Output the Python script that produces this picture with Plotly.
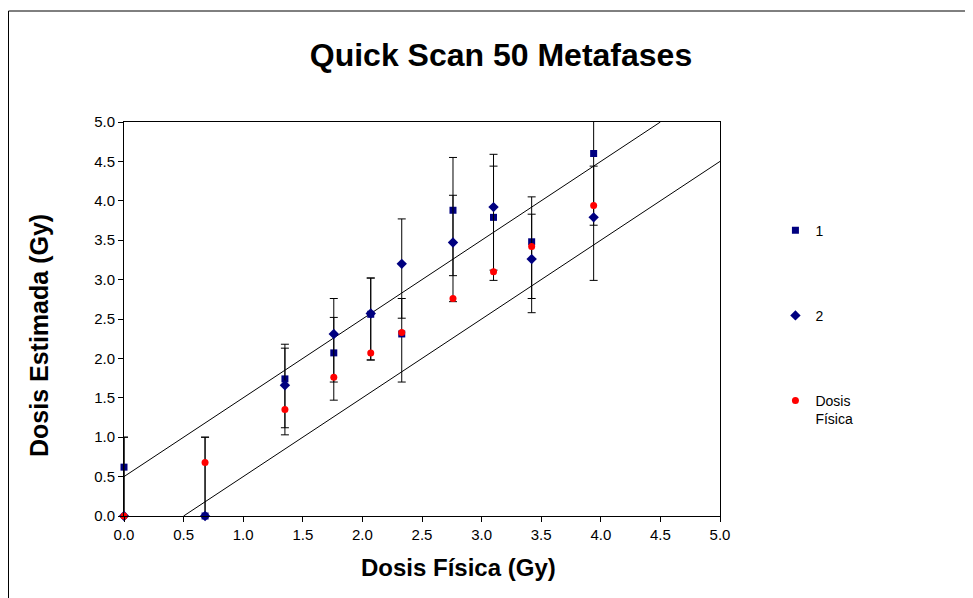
import plotly.graph_objects as go

# ---- data ----
dose_fisica = [0.0, 0.68, 1.35, 1.76, 2.07, 2.33, 2.76, 3.10, 3.42, 3.94]
est_1 = [0.62, 0.0, 1.74, 2.07, 2.56, 2.31, 3.88, 3.79, 3.48, 4.60]
est_2 = [0.0, 0.0, 1.66, 2.31, 2.57, 3.20, 3.47, 3.92, 3.26, 3.79]
upper_1 = [1.0, 1.0, 2.18, 2.52, 3.02, 2.76, 4.55, 4.44, 4.05, 5.30]
lower_1 = [0.0, 0.0, 1.12, 1.47, 1.98, 1.70, 3.05, 2.99, 2.76, 3.69]
upper_2 = [1.0, 1.0, 2.13, 2.76, 3.02, 3.77, 4.07, 4.59, 3.83, 4.44]
lower_2 = [0.0, 0.0, 1.03, 1.70, 1.98, 2.51, 2.72, 3.12, 2.58, 2.99]
band_offset = 0.5
band_upper_x = [0.0, 4.5]
band_lower_x = [0.5, 5.0]
tick_vals = [0.0, 0.5, 1.0, 1.5, 2.0, 2.5, 3.0, 3.5, 4.0, 4.5, 5.0]

FONT = "Liberation Sans, Arial, sans-serif"

plus_1 = [u - v for u, v in zip(upper_1, est_1)]
minus_1 = [v - l for v, l in zip(est_1, lower_1)]
plus_2 = [u - v for u, v in zip(upper_2, est_2)]
minus_2 = [v - l for v, l in zip(est_2, lower_2)]

fig = go.Figure()

# band lines y = x +/- offset
fig.add_trace(go.Scatter(x=band_upper_x, y=[v + band_offset for v in band_upper_x],
                         mode="lines", line=dict(color="black", width=1),
                         showlegend=False, hoverinfo="skip"))
fig.add_trace(go.Scatter(x=band_lower_x, y=[v - band_offset for v in band_lower_x],
                         mode="lines", line=dict(color="black", width=1),
                         showlegend=False, hoverinfo="skip"))

fig.add_trace(go.Scatter(
    x=dose_fisica, y=est_1, mode="markers", name="1", legendgroup="a",
    marker=dict(symbol="square", size=7, color="#000080"),
    error_y=dict(type="data", symmetric=False, array=plus_1, arrayminus=minus_1,
                 color="black", thickness=1, width=4),
    cliponaxis=False))
fig.add_trace(go.Scatter(
    x=dose_fisica, y=est_2, mode="markers", name="2", legendgroup="b",
    marker=dict(symbol="diamond", size=8, color="#000080"),
    error_y=dict(type="data", symmetric=False, array=plus_2, arrayminus=minus_2,
                 color="black", thickness=1, width=4),
    cliponaxis=False))
fig.add_trace(go.Scatter(
    x=dose_fisica, y=dose_fisica, mode="markers", name="Dosis<br>Física", legendgroup="c",
    marker=dict(symbol="circle", size=7, color="#FF0000"),
    cliponaxis=False))

axis_common = dict(
    range=[0, 5], tickvals=tick_vals, tickformat=".1f",
    showgrid=False, zeroline=False, showline=True, linecolor="black", linewidth=1,
    mirror=True, ticks="outside", ticklen=5, tickcolor="black",
    tickfont=dict(family=FONT, size=15, color="black"),
)

W, H = 965, 590  # page adds an 8px body margin
L, T = 116, 114
PW, PH = 596, 394

fig.update_layout(
    width=W, height=H,
    margin=dict(l=L, r=W - L - PW, t=T, b=H - T - PH),
    paper_bgcolor="white", plot_bgcolor="white",
    font=dict(family=FONT, color="black"),
    title=dict(text="<b>Quick Scan 50 Metafases</b>", x=493 / W, xanchor="center",
               y=1 - 47 / H, yanchor="middle",
               font=dict(family=FONT, size=32, color="black")),
    xaxis=dict(**axis_common),
    yaxis=dict(**axis_common),
    legend=dict(x=1.093, y=0.765, xanchor="left", yanchor="top",
                font=dict(family=FONT, size=14, color="black"),
                tracegroupgap=64, valign="top", bgcolor="rgba(0,0,0,0)",
                itemwidth=30),
    shapes=[dict(type="rect", xref="paper", yref="paper",
                 x0=(0.5 - L) / PW, x1=(W + 20 - L) / PW,
                 y0=(T + PH - 3) / PH, y1=(T + PH - H - 20) / PH,
                 line=dict(color="black", width=1), fillcolor="rgba(0,0,0,0)",
                 layer="below")],
    annotations=[
        dict(text="<b>Dosis Física (Gy)</b>", xref="paper", yref="paper",
             x=(458 - 124) / PW, y=(516 - 567) / PH, xanchor="center", yanchor="middle",
             showarrow=False, font=dict(family=FONT, size=24, color="black")),
        dict(text="<b>Dosis Estimada (Gy)</b>", xref="paper", yref="paper",
             x=(39 - 124) / PW, y=(516 - 336) / PH, xanchor="center", yanchor="middle",
             textangle=-90, showarrow=False, font=dict(family=FONT, size=25, color="black")),
    ],
)

fig.write_html("out.html")
